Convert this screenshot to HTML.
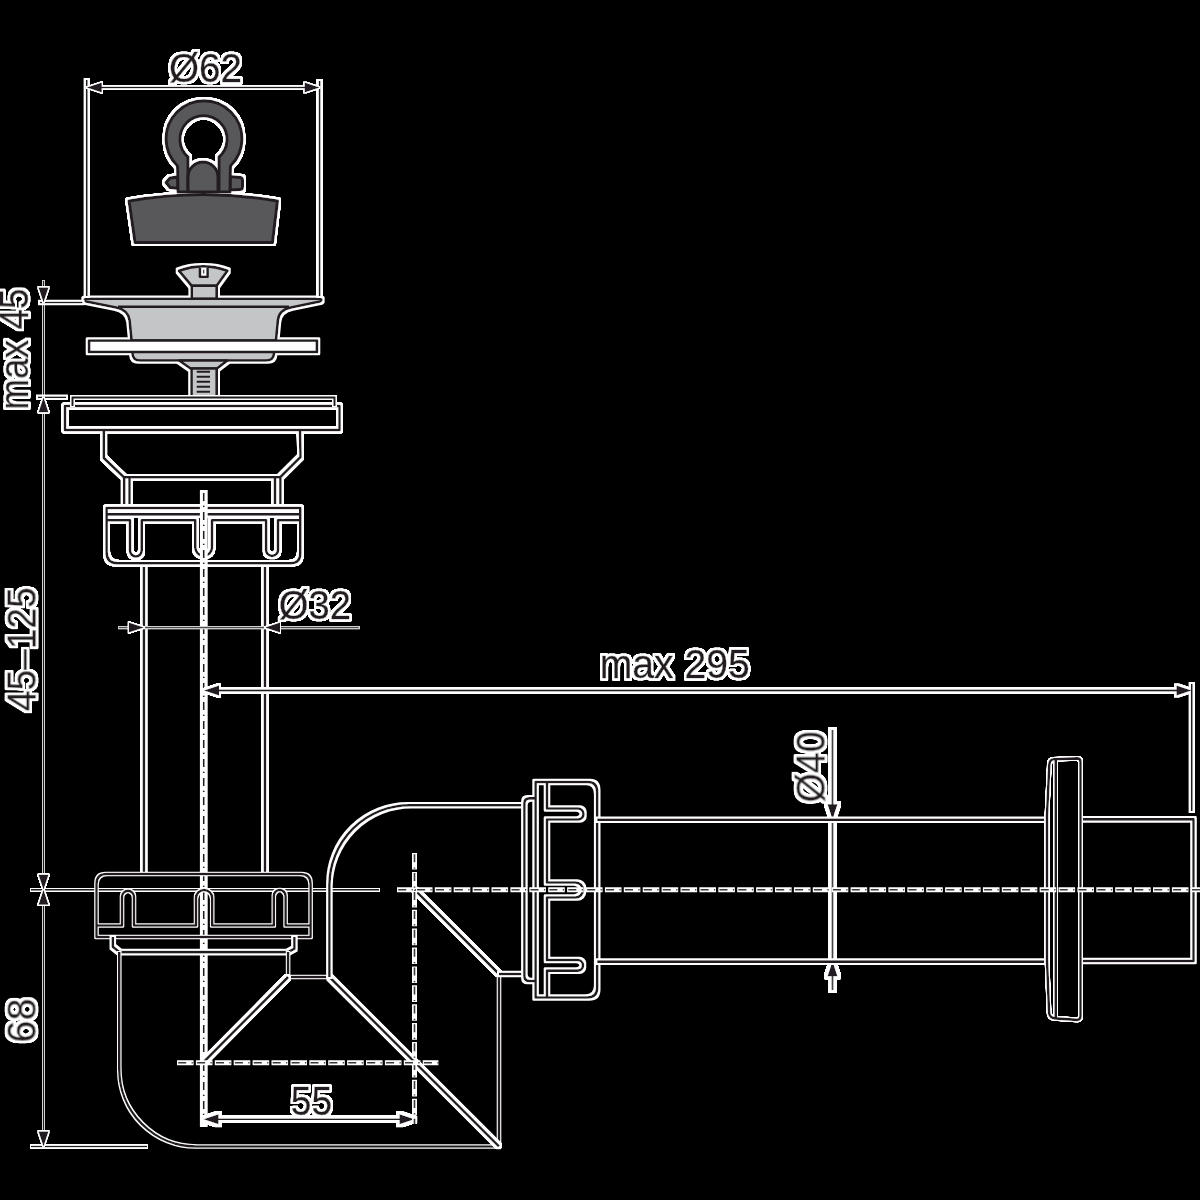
<!DOCTYPE html>
<html><head><meta charset="utf-8">
<style>
html,body{margin:0;padding:0;background:#000;width:1200px;height:1200px;overflow:hidden}
svg{display:block}
text{font-family:"Liberation Sans",sans-serif}
</style></head><body>
<svg width="1200" height="1200" viewBox="0 0 1200 1200">
<defs>
<filter id="r1" filterUnits="userSpaceOnUse" x="0" y="0" width="1200" height="1200">
<feMorphology in="SourceAlpha" operator="dilate" radius="1" result="d0"/>
<feComponentTransfer in="d0" result="d"><feFuncA type="linear" slope="4" intercept="0"/></feComponentTransfer>
<feFlood flood-color="#d0d0d0" result="w"/>
<feComposite in="w" in2="d" operator="in" result="hw"/>
<feMerge><feMergeNode in="hw"/><feMergeNode in="SourceGraphic"/></feMerge>
</filter>
<filter id="s1" filterUnits="userSpaceOnUse" x="0" y="0" width="1200" height="1200">
<feMorphology in="SourceAlpha" operator="dilate" radius="1" result="d0"/>
<feComponentTransfer in="d0" result="d"><feFuncA type="linear" slope="1" intercept="0"/></feComponentTransfer>
<feFlood flood-color="#fff" result="w"/>
<feComposite in="w" in2="d" operator="in" result="hw"/>
<feMerge><feMergeNode in="hw"/><feMergeNode in="SourceGraphic"/></feMerge>
</filter>
<filter id="w1" filterUnits="userSpaceOnUse" x="0" y="0" width="1200" height="1200">
<feMorphology in="SourceAlpha" operator="dilate" radius="1" result="d0"/>
<feComponentTransfer in="d0" result="d"><feFuncA type="linear" slope="4" intercept="0"/></feComponentTransfer>
<feFlood flood-color="#fff" result="w"/>
<feComposite in="w" in2="d" operator="in" result="hw"/>
<feMerge><feMergeNode in="hw"/><feMergeNode in="SourceGraphic"/></feMerge>
</filter>
<filter id="s2" filterUnits="userSpaceOnUse" x="0" y="0" width="1200" height="1200">
<feMorphology in="SourceAlpha" operator="dilate" radius="2" result="d0"/>
<feComponentTransfer in="d0" result="d"><feFuncA type="linear" slope="1" intercept="0"/></feComponentTransfer>
<feFlood flood-color="#fff" result="w"/>
<feComposite in="w" in2="d" operator="in" result="hw"/>
<feMerge><feMergeNode in="hw"/><feMergeNode in="SourceGraphic"/></feMerge>
</filter>
<filter id="r2" filterUnits="userSpaceOnUse" x="0" y="0" width="1200" height="1200">
<feMorphology in="SourceAlpha" operator="dilate" radius="2" result="d0"/>
<feComponentTransfer in="d0" result="d"><feFuncA type="linear" slope="4" intercept="0"/></feComponentTransfer>
<feFlood flood-color="#fff" result="w"/>
<feComposite in="w" in2="d" operator="in" result="hw"/>
<feMerge><feMergeNode in="hw"/><feMergeNode in="SourceGraphic"/></feMerge>
</filter>
<filter id="s3" filterUnits="userSpaceOnUse" x="0" y="0" width="1200" height="1200">
<feMorphology in="SourceAlpha" operator="dilate" radius="3" result="d0"/>
<feComponentTransfer in="d0" result="d"><feFuncA type="linear" slope="1" intercept="0"/></feComponentTransfer>
<feFlood flood-color="#fff" result="w"/>
<feComposite in="w" in2="d" operator="in" result="hw"/>
<feMerge><feMergeNode in="hw"/><feMergeNode in="SourceGraphic"/></feMerge>
</filter>
<filter id="r3" filterUnits="userSpaceOnUse" x="0" y="0" width="1200" height="1200">
<feMorphology in="SourceAlpha" operator="dilate" radius="3" result="d0"/>
<feComponentTransfer in="d0" result="d"><feFuncA type="linear" slope="4" intercept="0"/></feComponentTransfer>
<feFlood flood-color="#fff" result="w"/>
<feComposite in="w" in2="d" operator="in" result="hw"/>
<feMerge><feMergeNode in="hw"/><feMergeNode in="SourceGraphic"/></feMerge>
</filter>
</defs>
<rect width="1200" height="1200" fill="#000"/>
<g filter="url(#r2)" stroke="#231f20" fill="none" stroke-width="2.6" stroke-linejoin="round" >

<g fill="#58585a" stroke-width="3">
 <path d="M178 176.7L170 178L166 182.5L170 187.5L178 188.5Z"/>
 <path d="M230 176.5L240.5 177.5Q242.5 178 242.5 180L242.5 187Q242.5 189.5 240 189.5L230 190Z"/>
 <path fill-rule="evenodd" d="M178 192L177.5 166A38 38 0 1 1 230.5 166L230 192Z M188 192V157A23.5 23.5 0 1 1 219 157V192Z"/>
 <path d="M188 192V177A15 15 0 0 1 218 177V192Z"/>
 <path d="M129 201Q204 188 277.5 201L272.5 242.5H135Z"/>
</g>
</g>
<g filter="url(#s2)" stroke="#231f20" fill="none" stroke-width="2.6" stroke-linejoin="round" >

<g fill="#c4c5c7">
 <path d="M179 270.8Q203.3 262 227.5 270.8L216.7 285.8H191.7Z M200 267V276.7H207.5V267"/>
 <path d="M191.7 285.8H216.7V299H191.7Z"/>
 <path d="M86 298.7H320Q323 299.5 320 301.5L291 307.5Q279 310 278 320L276 340.5H131.5L129.5 320Q128 310 116 307.5L86 301.5Q83 299.5 86 298.7Z"/>
 <path d="M118 306.7H289" fill="none"/>
 <path d="M132.5 352V354Q133 360.5 140 360.5H266Q273.5 360.5 274 354V352"/>
 <path d="M179 360.5L190.5 368.5H217L227.5 360.5Z"/>
 <path d="M191.5 368.5H216.7V396.5H191.5Z"/>
 <path d="M196.7 371.7H210M196.7 376.7H210M196.7 381.7H210M196.7 386.7H210M196.7 391.7H210" stroke-width="2"/>
 <rect x="89" y="340.5" width="228" height="11.5" fill="#fff"/>
</g>
</g>
<g filter="url(#r2)" stroke="#231f20" fill="none" stroke-width="1.8" stroke-linejoin="round" >
<path d="M86.8 80V296M319.6 81V296"/>
</g>
<g filter="url(#w1)" stroke="#231f20" fill="none" stroke-width="1.6" stroke-linejoin="round" >
<path d="M98 87.5H308"/><polygon stroke="none" fill="#231f20" points="86.8,87.5 101.8,82.5 101.8,92.5"/><polygon stroke="none" fill="#231f20" points="319.6,87.5 304.6,82.5 304.6,92.5"/>
</g>
<g filter="url(#r2)" stroke="#231f20" fill="none" stroke-width="2.6" stroke-linejoin="round" >

 <rect x="65" y="406" width="274.5" height="24"/>
 <path d="M103.8 430V458L124.2 477.5V507.5M129.5 477.5V507.5M300 430L300.5 457L280.4 477V507.5M275 477V507.5M124.2 477.3H280.4"/>
 <path d="M143.9 563.3V874M265 563.3V874"/>
</g>
<g filter="url(#w1)" stroke="#231f20" fill="none" stroke-width="2.4" stroke-linejoin="round" >
<path d="M72.5 406V397.5H334.5V406"/>
</g>
<g filter="url(#r2)" stroke="#231f20" fill="none" stroke-width="2.6" stroke-linejoin="round" >
 <path d="M106.6 508H300.3V553.3Q300.3 563.3 290.3 563.3H117.6Q106.6 563.3 106.6 552.3Z"/>
 <path d="M106.6 514.4H300.3"/>
 <path d="M106.6 520.3H130V550.6A5.85 5.85 0 0 0 141.7 550.6V520.3H195.3V547.5A8.35 8.35 0 0 0 212 547.5V520.3H266.1V549.9A5.95 5.95 0 0 0 278 549.9V520.3H300.3"/>
</g>
<g filter="url(#s3)" stroke="#231f20" fill="none" stroke-width="1.8" stroke-linejoin="round" >
<path d="M203.8 493V1124" stroke-dasharray="8 4.5 1.5 5"/>
</g>
<g filter="url(#r1)" stroke="#231f20" fill="none" stroke-width="1.0" stroke-linejoin="round" >
<path d="M43.5 281V1146"/>
</g>
<g filter="url(#s2)" stroke="#231f20" fill="none" stroke-width="1.6" stroke-linejoin="round" >
<path d="M40 302.5H82.5M38 397.3H66"/>
</g>
<g filter="url(#w1)" stroke="#231f20" fill="none" stroke-width="1.8" stroke-linejoin="round" >
<path d="M31 889.8H379"/>
</g>
<g filter="url(#w1)" stroke="#231f20" fill="none" stroke-width="1.6" stroke-linejoin="round" >
<path d="M31 1146.5H147"/>
</g>
<g filter="url(#w1)" stroke="#231f20" fill="none" stroke-width="2.6" stroke-linejoin="round" >
<polygon stroke="none" fill="#231f20" points="43.5,302.5 38.5,287.5 48.5,287.5"/><polygon stroke="none" fill="#231f20" points="43.5,397.3 38.5,412.3 48.5,412.3"/><polygon stroke="none" fill="#231f20" points="43.5,889.8 38.5,874.8 48.5,874.8"/><polygon stroke="none" fill="#231f20" points="43.5,889.8 38.5,904.8 48.5,904.8"/><polygon stroke="none" fill="#231f20" points="43.5,1146.5 38.5,1131.5 48.5,1131.5"/>
</g>
<g filter="url(#r1)" stroke="#231f20" fill="none" stroke-width="1.0" stroke-linejoin="round" >
<path d="M119 627.6H358.8"/>
</g>
<g filter="url(#w1)" stroke="#231f20" fill="none" stroke-width="2.6" stroke-linejoin="round" >
<polygon stroke="none" fill="#231f20" points="143.9,627.6 128.9,622.6 128.9,632.6"/><polygon stroke="none" fill="#231f20" points="265.0,627.6 280.0,622.6 280.0,632.6"/>
</g>
<g filter="url(#r2)" stroke="#231f20" fill="none" stroke-width="1.8" stroke-linejoin="round" >
<path d="M216 690.5H1180M1191.8 684V811" /><polygon stroke="none" fill="#231f20" points="204.0,690.5 219.0,685.5 219.0,695.5"/><polygon stroke="none" fill="#231f20" points="1191.5,690.5 1176.5,685.5 1176.5,695.5"/>
</g>
<g filter="url(#r3)" stroke="#231f20" fill="none" stroke-width="2" stroke-linejoin="round" >
<path d="M832.5 730V990" stroke="#444"/><polygon stroke="none" fill="#231f20" points="832.5,819.3 827.5,804.3 837.5,804.3"/><polygon stroke="none" fill="#231f20" points="832.5,961.3 827.5,976.3 837.5,976.3"/>
</g>
<g filter="url(#r3)" stroke="#231f20" fill="none" stroke-width="1.6" stroke-linejoin="round" >
<path d="M215 1119.2H403"/><polygon stroke="none" fill="#231f20" points="203.5,1119.2 218.5,1114.2 218.5,1124.2"/><polygon stroke="none" fill="#231f20" points="414.5,1119.2 399.5,1114.2 399.5,1124.2"/>
</g>
<g filter="url(#s1)" stroke="#231f20" fill="none" stroke-width="2.6" stroke-linejoin="round" >

 <path d="M96.5 937V884Q96.5 874 106.5 874H300.6Q310.6 874 310.6 884V937Z"/>
 <path d="M96.5 925.5H122V896.9A6 6 0 0 1 134 896.9V925.5H196V898.1A8.1 8.1 0 0 1 212.2 898.1V925.5H273.8V895.9A5.9 5.9 0 0 1 285.6 895.9V925.5H310.6"/>
</g>
<g filter="url(#s2)" stroke="#231f20" fill="none" stroke-width="2.6" stroke-linejoin="round" >
<path d="M112.8 937V946.7L119.3 952.1H288.1L294.4 948.7V937"/>
</g>
<g filter="url(#s1)" stroke="#231f20" fill="none" stroke-width="2.6" stroke-linejoin="round" >

 <path d="M119.3 952.1V1069.4A77 77 0 0 0 196.3 1146.5H499V974"/>
 <path d="M288.1 952.1V977H329.4"/>
</g>
<g filter="url(#r2)" stroke="#231f20" fill="none" stroke-width="2.6" stroke-linejoin="round" >
<path d="M288.1 977L203.7 1062M329.4 977L499 1146.4M414.5 889.7L499 974"/>
</g>
<g filter="url(#s2)" stroke="#231f20" fill="none" stroke-width="2.6" stroke-linejoin="round" >
<path d="M329.4 977V885A80 80 0 0 1 409.4 805.3H524.4M499 974H524.4"/>
</g>
<g filter="url(#s2)" stroke="#231f20" fill="none" stroke-width="2.6" stroke-linejoin="round" >

 <path d="M535.6 798.4H529.4Q524.4 798.4 524.4 803.4V976Q524.4 981 529.4 981H535.6"/>
 <path d="M535.6 782H588Q597.2 782 597.2 792V987.5Q597.2 997.5 587.2 997.5H535.6Z"/>
 <path d="M547 782V808.5H578A5.5 5.5 0 0 1 578 819.5H547V882.5H575.5A7.5 7.5 0 0 1 575.5 897.5H547V960H577.7A5.3 5.3 0 0 1 577.7 970.6H547V997.5"/>
</g>
<g filter="url(#s2)" stroke="#231f20" fill="none" stroke-width="2.6" stroke-linejoin="round" >
<path d="M597.2 819.8H1048M597.2 961.6H1048M1080.5 819.4H1193.5V961H1080.5"/>
</g>
<g filter="url(#w1)" stroke="#231f20" fill="none" stroke-width="2.6" stroke-linejoin="round" >

 <path d="M1054 759.3L1077 758.4Q1080.5 758.4 1080.5 762V1016Q1080.5 1020 1077 1019.9L1055 1018.4Q1049 1018 1049 1011L1047 960Q1046.8 900 1047 815L1049.3 765Q1049.5 759.5 1054 759.3Z"/>
 <path d="M1055.7 759.5V1018.5"/>
</g>
<g fill="none"><path d="M397 889.7H1200" stroke="#fff" stroke-width="5" stroke-dasharray="16.6 2.3" stroke-dashoffset="0"/><path d="M397 889.7H1200" stroke="#3a3a3a" stroke-width="1.6" stroke-dasharray="0 1.2 8 5.4 1.2 3.1" stroke-dashoffset="0"/><path d="M414.5 853V1124" stroke="#fff" stroke-width="5" stroke-dasharray="16.6 2.3" stroke-dashoffset="0"/><path d="M414.5 853V1124" stroke="#3a3a3a" stroke-width="1.6" stroke-dasharray="0 1.2 8 5.4 1.2 3.1" stroke-dashoffset="0"/><path d="M177 1062.7H438.4" stroke="#fff" stroke-width="5" stroke-dasharray="16.6 2.3" stroke-dashoffset="0"/><path d="M177 1062.7H438.4" stroke="#3a3a3a" stroke-width="1.6" stroke-dasharray="0 1.2 8 5.4 1.2 3.1" stroke-dashoffset="0"/></g>
<g filter="url(#r2)"><text x="169" y="82.2" font-size="41.5" textLength="73" lengthAdjust="spacingAndGlyphs" stroke="#231f20" stroke-width="0.4" fill="#231f20">Ø62</text><text x="278.75" y="619" font-size="41" textLength="72.25" lengthAdjust="spacingAndGlyphs" stroke="#231f20" stroke-width="0.4" fill="#231f20">Ø32</text><text x="599.7" y="678" font-size="41" textLength="150.2" lengthAdjust="spacingAndGlyphs" stroke="#231f20" stroke-width="0.4" fill="#231f20">max 295</text><text transform="translate(28 409.8) rotate(-90)" font-size="41" textLength="121.3" lengthAdjust="spacingAndGlyphs" stroke="#231f20" stroke-width="0.4" fill="#231f20">max 45</text><text transform="translate(35.6 711.1) rotate(-90)" font-size="41" textLength="123.8" lengthAdjust="spacingAndGlyphs" stroke="#231f20" stroke-width="0.4" fill="#231f20">45–125</text><text transform="translate(35.6 1042.7) rotate(-90)" font-size="41" textLength="44.3" lengthAdjust="spacingAndGlyphs" stroke="#231f20" stroke-width="0.4" fill="#231f20">68</text><text transform="translate(824.6 802.5) rotate(-90)" font-size="41" textLength="71.2" lengthAdjust="spacingAndGlyphs" stroke="#231f20" stroke-width="0.4" fill="#231f20">Ø40</text><text x="290.7" y="1114.8" font-size="41.5" textLength="41.5" lengthAdjust="spacingAndGlyphs" stroke="#231f20" stroke-width="0.4" fill="#231f20">55</text></g>

</svg>
</body></html>
